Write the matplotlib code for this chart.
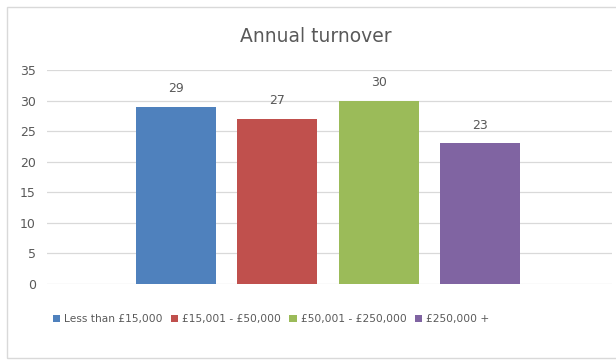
import matplotlib
matplotlib.use("Agg")
import matplotlib.pyplot as plt
from matplotlib.patches import Rectangle, Patch

# Annual turnover survey counts
bands = ["Less than £15,000", "£15,001 - £50,000", "£50,001 - £250,000", "£250,000 +"]
counts = [29, 27, 30, 23]
colours = ["#4F81BD", "#C0504D", "#9BBB59", "#8064A2"]
y_ticks = [0, 5, 10, 15, 20, 25, 30, 35]

text_grey = "#595959"

fig = plt.figure(figsize=(6.16, 3.62), dpi=100)
fig.patch.set_facecolor("white")

# light chart border
fig.patches.append(Rectangle((7 / 616, 4 / 362), 620 / 616, 351 / 362, transform=fig.transFigure,
                             fill=False, edgecolor="#D9D9D9", linewidth=1.0))

ax = fig.add_axes([47 / 616, 78 / 362, 565 / 616, 214 / 362])
positions = list(range(len(counts)))
bars = ax.bar(positions, counts, width=0.79, color=colours, zorder=3)

for pos, val in zip(positions, counts):
    ax.text(pos, val + 1.9, str(val), ha="center", va="bottom", fontsize=9, color=text_grey)

ax.set_xlim(-1.27, 4.3)
ax.set_ylim(0, 35)
ax.set_yticks(y_ticks)
ax.set_xticks([])
ax.tick_params(axis="y", length=0, labelsize=9, labelcolor=text_grey, pad=8)
ax.grid(axis="y", color="#D9D9D9", linewidth=0.9, zorder=0)
for side in ["top", "right", "left", "bottom"]:
    ax.spines[side].set_visible(False)

fig.text(316 / 616, 1 - 37 / 362, "Annual turnover", ha="center", va="center",
         fontsize=13.5, color=text_grey)

handles = [Patch(facecolor=c, label=b) for c, b in zip(colours, bands)]
fig.legend(handles=handles, loc="center", bbox_to_anchor=(271 / 616, 1 - 319 / 362), ncol=4,
           frameon=False, fontsize=7.7, handlelength=0.7, handleheight=0.7, handletextpad=0.35,
           columnspacing=0.8, labelcolor=text_grey)

fig.savefig("out.png", dpi=100, facecolor="white")
